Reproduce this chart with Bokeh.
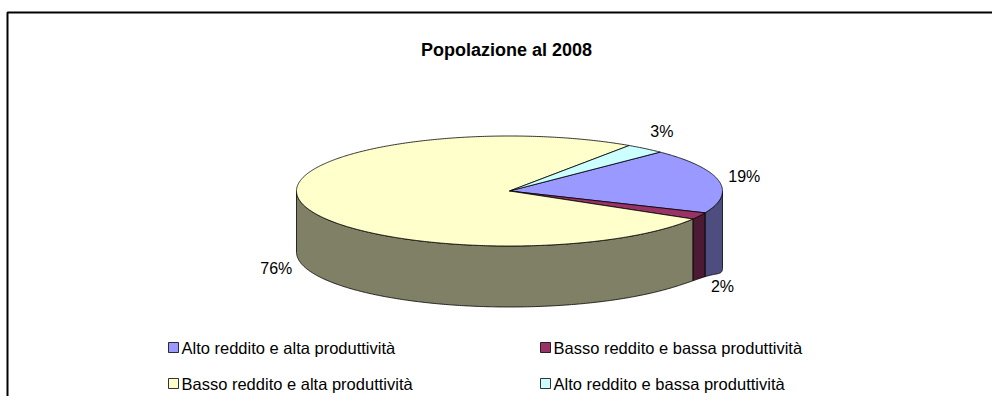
import numpy as np
from bokeh.plotting import figure
from bokeh.models import Range1d, ColumnDataSource
from bokeh.embed import file_html
from bokeh.resources import INLINE
from bokeh.core.properties import value

# ---- data ----
title = "Popolazione al 2008"
categories = [
    "Alto reddito e alta produttività",
    "Basso reddito e bassa produttività",
    "Basso reddito e alta produttività",
    "Alto reddito e bassa produttività",
]
shares = [19, 2, 76, 3]
top_colors = ["#9999FF", "#993366", "#FFFFCC", "#CCFFFF"]
side_colors = ["#4D4D80", "#4D1A33", "#808066", "#668080"]

# ---- layout ----
W, H = 992, 396
FONT = "Liberation Sans"
p = figure(width=W, height=H, x_range=Range1d(0, W), y_range=Range1d(H, 0),
           output_backend="svg", toolbar_location=None, min_border=0,
           x_axis_location=None, y_axis_location=None, outline_line_color=None,
           background_fill_color="white", border_fill_color="white")
p.xgrid.visible = False
p.ygrid.visible = False

# chart border (top and left visible)
p.line(x=[7, 7, W + 10], y=[H + 10, 12, 12], line_color="black", line_width=2)

# title
p.text(x=[506], y=[49], text=[title], text_align="center", text_baseline="middle",
       text_font=value(FONT), text_font_size="18px", text_font_style="bold", text_color="black")

# ---- 3D pie ----
cx, cy, rx, ry, depth, bulge = 509.0, 190.5, 213.0, 55.0, 61.0, 16.0
start = 45.0
total = float(sum(shares))

def arc(a, b, n=None):
    if n is None:
        n = max(2, int(abs(b - a) * 2) + 2)
    t = np.radians(np.linspace(a, b, n))
    return t, cx + rx * np.cos(t), cy - ry * np.sin(t)

bounds = []
a0 = start
for s in shares:
    a1 = a0 - 360.0 * s / total
    bounds.append((a0, a1))
    a0 = a1

side_xs, side_ys, side_c = [], [], []
top_xs, top_ys, top_c = [], [], []
lab_x, lab_y, lab_t = [], [], []
for (a0, a1), s, tc, sc in zip(bounds, shares, top_colors, side_colors):
    # visible side wall (front half: angle in [-180, 0] + 360k)
    for k in range(-2, 2):
        hi = min(a0, 360 * k)
        lo = max(a1, -180 + 360 * k)
        if hi > lo:
            _, ux, uy = arc(hi, lo)
            tb, bx, by = arc(lo, hi)
            dz = depth + bulge * np.clip(np.cos(tb), 0, None) ** 20
            side_xs.append(list(ux) + list(bx))
            side_ys.append(list(uy) + list(by + dz))
            side_c.append(sc)
    _, ax, ay = arc(a0, a1)
    top_xs.append([cx] + list(ax))
    top_ys.append([cy] + list(ay))
    top_c.append(tc)
    mid = np.radians((a0 + a1) / 2)
    lx = cx + (rx + 26) * np.cos(mid)
    ly = cy - (ry + 22) * np.sin(mid) + (depth if np.sin(mid) < 0 else 0)
    lab_x.append(lx)
    lab_y.append(ly)
    lab_t.append(f"{round(100 * s / total)}%")

p.patches(xs=side_xs, ys=side_ys, fill_color=side_c, line_color="black", line_width=0.8)
p.patches(xs=top_xs, ys=top_ys, fill_color=top_c, line_color="black", line_width=0.8)
p.text(x=lab_x, y=lab_y, text=lab_t, text_align="center", text_baseline="middle",
       text_font=value(FONT), text_font_size="16px", text_color="black")

# ---- legend (2 columns) ----
col_x = [173, 545]
row_y = [347, 383]
leg = ColumnDataSource(dict(
    x=[col_x[i % 2] for i in range(len(categories))],
    y=[row_y[i // 2] for i in range(len(categories))],
    tx=[col_x[i % 2] + 8 for i in range(len(categories))],
    label=categories,
    color=top_colors,
))
p.rect(x="x", y="y", width=10, height=10, fill_color="color", line_color="black",
       line_width=0.8, source=leg)
p.text(x="tx", y="y", text="label", text_align="left", text_baseline="middle",
       text_font=value(FONT), text_font_size="16.5px", text_color="black", source=leg)

open("out.html", "w").write(file_html(p, INLINE))
